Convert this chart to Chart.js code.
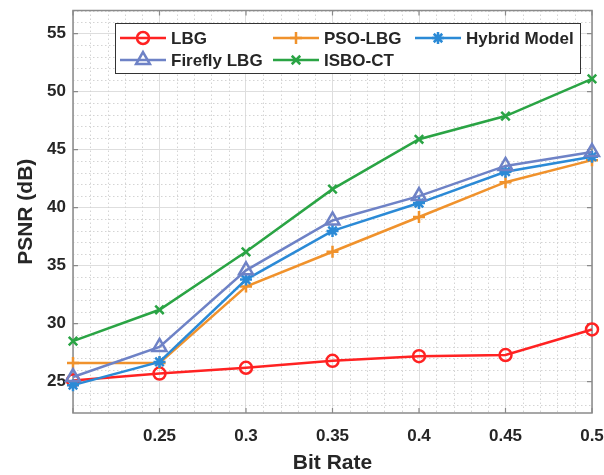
<!DOCTYPE html>
<html><head><meta charset="utf-8">
<script src="https://cdn.jsdelivr.net/npm/chart.js@4.4.0/dist/chart.umd.min.js"></script>
<style>html,body{margin:0;padding:0;background:#fff}#wrap{width:604px;height:475px;position:relative}</style>
</head><body><div id="wrap"><canvas id="c" width="604" height="475"></canvas></div>
<script>
// ---- data ----
const bitRates = [0.2, 0.25, 0.3, 0.35, 0.4, 0.45, 0.5];
const xTickValues = [0.2, 0.25, 0.3, 0.35, 0.4, 0.45, 0.5];
const xTickLabels = ['', '0.25', '0.3', '0.35', '0.4', '0.45', '0.5'];
const yTickValues = [25, 30, 35, 40, 45, 50, 55];
const lbg = [25.1, 25.7, 26.2, 26.8, 27.2, 27.3, 29.5];
const psoLbg = [26.6, 26.6, 33.2, 36.2, 39.2, 42.2, 44.1];
const hybridModel = [24.7, 26.7, 33.8, 38.0, 40.4, 43.1, 44.4];
const fireflyLbg = [25.4, 28.0, 34.6, 38.9, 41.0, 43.6, 44.8];
const isboCt = [28.5, 31.2, 36.2, 41.6, 45.9, 47.9, 51.1];
const seriesNames = ['LBG', 'PSO-LBG', 'Hybrid Model', 'Firefly LBG', 'ISBO-CT'];
const xTitle = 'Bit Rate';
const yTitle = 'PSNR (dB)';

// ---- styles ----
const FONT = "'Liberation Sans', Arial, Helvetica, sans-serif";
const TXT = '#262626';
const AXIS = '#8a8a8a';
const styles = [
  {color: '#ff2222', pointStyle: 'circle', radius: 6, fill: 'rgba(0,0,0,0)'},
  {color: '#f0922c', pointStyle: 'cross', radius: 6, fill: '#f0922c'},
  {color: '#2b8ad6', pointStyle: 'star', radius: 6, fill: '#2b8ad6'},
  {color: '#6e82c6', pointStyle: 'triangle', radius: 8, fill: 'rgba(0,0,0,0)'},
  {color: '#2aa444', pointStyle: 'crossRot', radius: 6, fill: '#2aa444'}
];
const seriesValues = [lbg, psoLbg, hybridModel, fireflyLbg, isboCt];

const datasets = seriesValues.map((vals, i) => ({
  label: seriesNames[i],
  data: bitRates.map((x, j) => ({x: x, y: vals[j]})),
  borderColor: styles[i].color,
  backgroundColor: styles[i].fill,
  pointBorderColor: styles[i].color,
  pointBackgroundColor: styles[i].fill,
  pointStyle: styles[i].pointStyle,
  pointRadius: styles[i].radius,
  pointBorderWidth: 2.5,
  borderWidth: 2.5,
  tension: 0,
  clip: false,
  order: 5 - i
}));

function drawMarker(ctx, st, x, y) {
  ctx.save();
  ctx.strokeStyle = st.color;
  ctx.fillStyle = st.fill;
  ctx.lineWidth = 2.5;
  if (Chart.helpers && Chart.helpers.drawPoint) {
    Chart.helpers.drawPoint(ctx, {pointStyle: st.pointStyle, radius: st.radius, rotation: 0, borderWidth: 2.5}, x, y);
  }
  ctx.restore();
}

const extrasPlugin = {
  id: 'extras',
  beforeDatasetsDraw(chart) {
    const {ctx, chartArea: a, scales: {x, y}} = chart;
    ctx.save();
    ctx.beginPath();
    ctx.rect(a.left, a.top, a.right - a.left, a.bottom - a.top);
    ctx.clip();
    ctx.strokeStyle = '#d4d4d4';
    ctx.lineWidth = 1;
    ctx.setLineDash([1.5, 2.5]);
    for (let k = 21; k < 50; k++) {
      if (k % 5 === 0) continue;
      const px = Math.round(x.getPixelForValue(k / 100)) + 0.5;
      ctx.beginPath(); ctx.moveTo(px, a.top); ctx.lineTo(px, a.bottom); ctx.stroke();
    }
    for (let v = 23; v <= 57; v++) {
      if (v % 5 === 0) continue;
      const py = Math.round(y.getPixelForValue(v)) + 0.5;
      ctx.beginPath(); ctx.moveTo(a.left, py); ctx.lineTo(a.right, py); ctx.stroke();
    }
    ctx.restore();
    // box and inward ticks (under the data)
    ctx.save();
    ctx.strokeStyle = AXIS;
    ctx.lineWidth = 1.5;
    ctx.strokeRect(a.left, a.top, a.right - a.left, a.bottom - a.top);
    ctx.lineWidth = 1.2;
    const tl = 5;
    xTickValues.forEach(v => {
      const px = x.getPixelForValue(v);
      ctx.beginPath();
      ctx.moveTo(px, a.bottom); ctx.lineTo(px, a.bottom - tl);
      ctx.moveTo(px, a.top); ctx.lineTo(px, a.top + tl);
      ctx.stroke();
    });
    yTickValues.forEach(v => {
      const py = y.getPixelForValue(v);
      ctx.beginPath();
      ctx.moveTo(a.left, py); ctx.lineTo(a.left + tl, py);
      ctx.moveTo(a.right, py); ctx.lineTo(a.right - tl, py);
      ctx.stroke();
    });
    ctx.restore();
  },
  afterDatasetsDraw(chart) {
    const {ctx} = chart;
    ctx.save();
    // legend
    const bx = 115, by = 23, bw = 465, bh = 50;
    ctx.fillStyle = '#ffffff';
    ctx.fillRect(bx, by, bw, bh);
    ctx.strokeStyle = '#333333';
    ctx.lineWidth = 1;
    ctx.strokeRect(bx + 0.5, by + 0.5, bw, bh);
    const colX = [120, 273, 415];
    const rowY = [38, 60];
    ctx.font = 'bold 17px ' + FONT;
    ctx.textBaseline = 'middle';
    chart.data.datasets.forEach((ds, i) => {
      const col = i % 3, row = Math.floor(i / 3);
      const lx = colX[col], ly = rowY[row];
      const st = styles[i];
      ctx.strokeStyle = st.color;
      ctx.lineWidth = 2.5;
      ctx.beginPath(); ctx.moveTo(lx, ly); ctx.lineTo(lx + 46, ly); ctx.stroke();
      drawMarker(ctx, st, lx + 23, ly);
      ctx.fillStyle = TXT;
      ctx.textAlign = 'left';
      ctx.fillText(ds.label, lx + 51, ly + 1);
    });
    ctx.restore();
  }
};

new Chart(document.getElementById('c'), {
  type: 'line',
  data: {datasets: datasets},
  plugins: [extrasPlugin],
  options: {
    responsive: false,
    animation: false,
    devicePixelRatio: 1,
    layout: {padding: {left: 0, right: 0, top: 10, bottom: 0}},
    plugins: {legend: {display: false}, tooltip: {enabled: false}},
    scales: {
      x: {
        type: 'linear', min: 0.2, max: 0.5,
        afterBuildTicks: s => { s.ticks = xTickValues.map(v => ({value: v})); },
        afterFit: s => { s.height = 62; s.paddingRight = 12; s.paddingLeft = 0; },
        ticks: {
          callback: (v, i) => xTickLabels[i],
          color: TXT, padding: 13, maxRotation: 0, autoSkip: false,
          font: {family: FONT, size: 17, weight: 'bold'}
        },
        grid: {color: '#dedede', lineWidth: 1, drawTicks: false},
        border: {display: false},
        title: {display: true, text: xTitle, color: TXT, padding: {top: 0, bottom: 0},
          font: {family: FONT, size: 21, weight: 'bold', lineHeight: 1.1}}
      },
      y: {
        type: 'linear', min: 22.3, max: 57,
        afterBuildTicks: s => { s.ticks = yTickValues.map(v => ({value: v})); },
        afterFit: s => { s.width = 73; s.paddingTop = 0; s.paddingBottom = 0; },
        ticks: {
          color: TXT, padding: 7,
          font: {family: FONT, size: 17, weight: 'bold'}
        },
        grid: {color: '#dedede', lineWidth: 1, drawTicks: false},
        border: {display: false},
        title: {display: true, text: yTitle, color: TXT, padding: {top: 14, bottom: 0},
          font: {family: FONT, size: 21, weight: 'bold', lineHeight: 1.2}}
      }
    }
  }
});
</script>
</body></html>
